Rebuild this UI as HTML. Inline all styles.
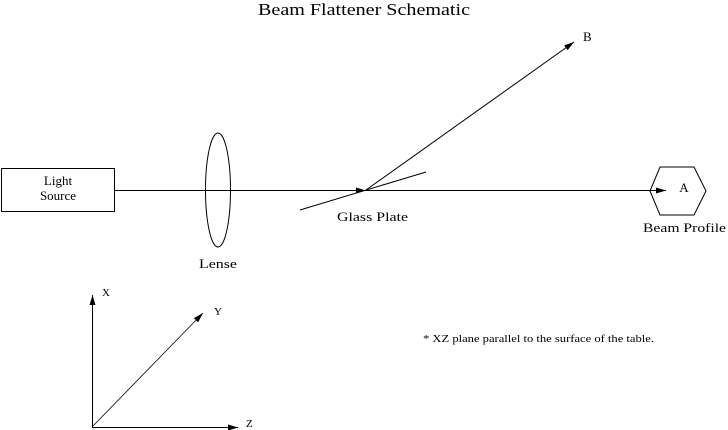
<!DOCTYPE html>
<html><head><style>body{margin:0;background:#fff}svg{display:block}text{font-family:"Liberation Serif",serif;fill:#000}</style></head>
<body>
<svg width="728" height="430" viewBox="0 0 728 430" xmlns="http://www.w3.org/2000/svg">
<defs><marker id="a" viewBox="0 0 10 6" refX="10" refY="3" markerWidth="10" markerHeight="6" orient="auto" markerUnits="userSpaceOnUse"><path d="M0,0L10,3L0,6Z" fill="#000"/></marker></defs>
<text x="258" y="15" font-size="17" textLength="212" lengthAdjust="spacingAndGlyphs">Beam Flattener Schematic</text>
<rect x="1.5" y="168.5" width="113" height="43" fill="none" stroke="#000"/>
<text x="58" y="185" font-size="13" text-anchor="middle">Light</text>
<text x="58" y="200" font-size="13" text-anchor="middle">Source</text>
<line x1="115" y1="190.5" x2="366" y2="190.5" stroke="#000" marker-end="url(#a)"/>
<line x1="366" y1="190.5" x2="666" y2="190.5" stroke="#000" marker-end="url(#a)"/>
<ellipse cx="218" cy="190" rx="12.5" ry="57" fill="none" stroke="#000"/>
<text x="199" y="268" font-size="13" textLength="38" lengthAdjust="spacingAndGlyphs">Lense</text>
<line x1="300" y1="210" x2="426" y2="172" stroke="#000"/>
<line x1="366" y1="190" x2="574" y2="42" stroke="#000" marker-end="url(#a)"/>
<text x="583" y="41" font-size="13">B</text>
<text x="337" y="221" font-size="13" textLength="71" lengthAdjust="spacingAndGlyphs">Glass Plate</text>
<polygon points="650,191 660,167 694,167 706,191 694,215 660,215" fill="none" stroke="#000"/>
<text x="684" y="192" font-size="13" text-anchor="middle">A</text>
<text x="643" y="232" font-size="13" textLength="83" lengthAdjust="spacingAndGlyphs">Beam Profile</text>
<line x1="92.5" y1="427" x2="92.5" y2="295" stroke="#000" marker-end="url(#a)"/>
<line x1="92" y1="427.5" x2="238" y2="427.5" stroke="#000" marker-end="url(#a)"/>
<line x1="92" y1="427" x2="203" y2="313" stroke="#000" stroke-width="0.8" marker-end="url(#a)"/>
<text x="102" y="296" font-size="11">X</text>
<text x="214" y="315" font-size="11">Y</text>
<text x="246" y="427" font-size="11">Z</text>
<text x="423" y="342" font-size="11" textLength="231" lengthAdjust="spacingAndGlyphs">* XZ plane parallel to the surface of the table.</text>
</svg>
</body></html>
